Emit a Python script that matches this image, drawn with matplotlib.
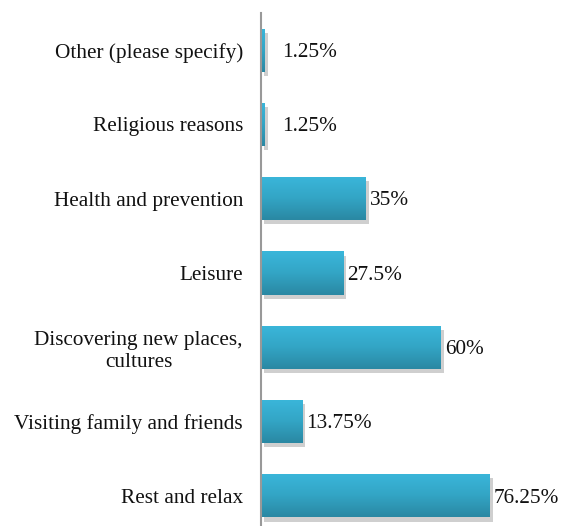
import matplotlib
matplotlib.use("Agg")
import matplotlib.pyplot as plt
import numpy as np
from matplotlib.colors import LinearSegmentedColormap
import matplotlib.patheffects as pe

categories = ["Rest and relax", "Visiting family and friends",
              "Discovering new places,\ncultures", "Leisure",
              "Health and prevention", "Religious reasons",
              "Other (please specify)"]
values = [76.25, 13.75, 60, 27.5, 35, 1.25, 1.25]
value_labels = ["76.25%", "13.75%", "60%", "27.5%", "35%", "1.25%", "1.25%"]

plt.rcParams['font.family'] = ['Liberation Serif', 'DejaVu Serif']

fig = plt.figure(figsize=(5.61, 5.26), dpi=100)
ax = fig.add_axes([261/561, (526-533)/526, 300/561, 520/526])

y = np.arange(len(categories))
h = 0.58
bars = ax.barh(y, values, height=h, color='#31a7c8', zorder=3,
               path_effects=[pe.SimplePatchShadow(offset=(2, -3), shadow_rgbFace='#a8a8a8', alpha=0.55),
                             pe.Normal()])

cmap = LinearSegmentedColormap.from_list('g', ['#2a88a3', '#33a5c5', '#3ab6da'])
grad = np.linspace(0, 1, 64).reshape(-1, 1)
for b in bars:
    x0, y0 = b.get_x(), b.get_y()
    w, hh = b.get_width(), b.get_height()
    im = ax.imshow(grad, cmap=cmap, aspect='auto', origin='lower',
                   extent=(x0, x0 + w, y0, y0 + hh), zorder=4)
    im.set_clip_path(b)

for yi, v, lab in zip(y, values, value_labels):
    ax.text(max(v + 1.3, 7), yi - 0.03, lab, va='center', ha='left', fontsize=15.3,
            color='#111111', zorder=5)

ax.set_xlim(0, 100)
ax.set_ylim(-0.5, len(categories) - 0.5)
ax.set_yticks(y)
ax.set_yticklabels(categories, fontsize=15.3, color='#111111', multialignment='center')
ax.tick_params(axis='y', length=0, pad=13)
ax.set_xticks([])
for s in ['top', 'right', 'bottom']:
    ax.spines[s].set_visible(False)
ax.spines['left'].set_color('#999999')
ax.spines['left'].set_linewidth(1.5)
ax.spines['left'].set_zorder(6)

fig.savefig('out.png', dpi=100)
